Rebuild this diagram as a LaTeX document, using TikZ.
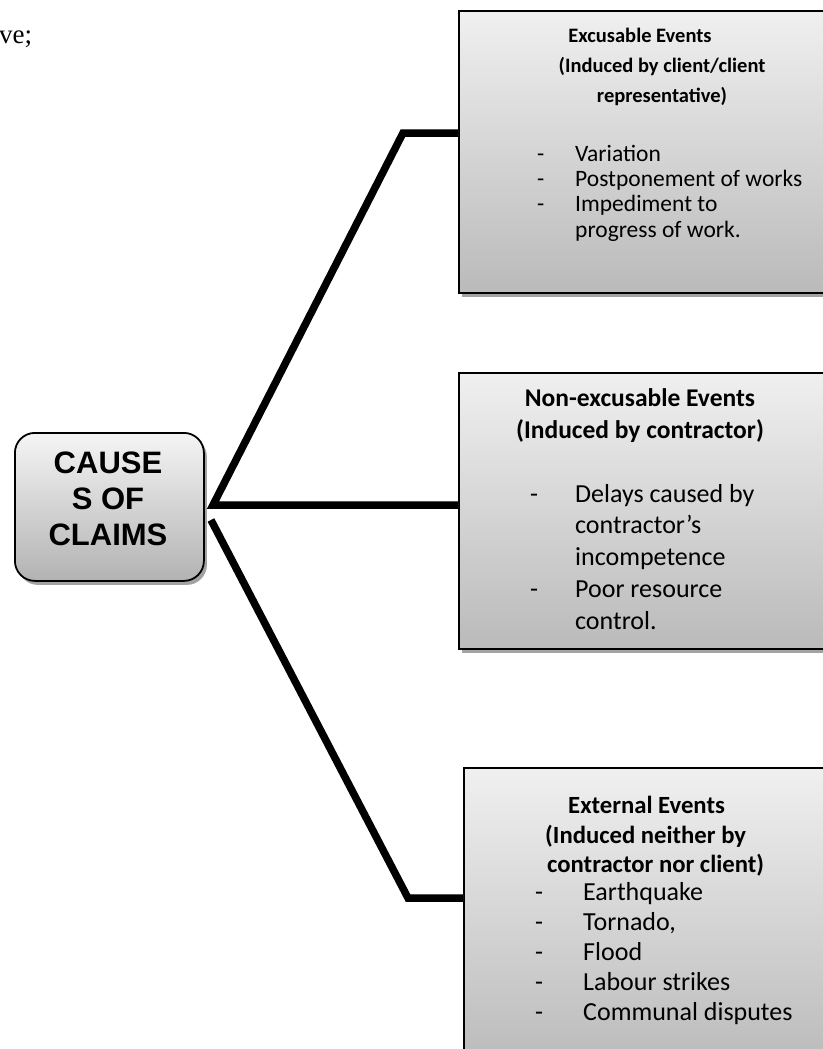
\documentclass[tikz,border=0pt]{standalone}
\usepackage{fontspec}
\setmainfont{Carlito}
\newfontfamily\arialfont{Liberation Sans}
\newfontfamily\timesfont{Liberation Serif}
\usetikzlibrary{shadows}
\begin{document}
\begin{tikzpicture}[x=1pt,y=-1pt,
  eventbox/.style={draw=black, line width=1.8pt, top color=black!6, bottom color=black!27,
    minimum width=380pt, anchor=north west, inner sep=0pt,
    drop shadow={shadow xshift=3pt, shadow yshift=-4pt, fill=black!45, opacity=0.8}},
  causebox/.style={draw=black, line width=1.8pt, rounded corners=20pt, top color=black!4, bottom color=black!30,
    minimum width=189pt, minimum height=148pt, anchor=north west, inner sep=0pt,
    drop shadow={shadow xshift=3pt, shadow yshift=-4pt, fill=black!45, opacity=0.8}},
  txt/.style={inner sep=0pt, anchor=base west},
  ctxt/.style={inner sep=0pt, anchor=base},
  link/.style={line width=7.5pt, line join=miter, draw=black},
  linkshadow/.style={line width=6.5pt, line join=miter, draw=black!35},
]
\useasboundingbox (0,0) rectangle (822,1049);

% stray text at the top of the page
\node[txt, font=\timesfont\fontsize{27}{30}\selectfont] (frag) at (-1,44) {ve;};

% boxes
\node[eventbox, minimum height=282pt] (b1) at (458,10) {};
\node[eventbox, minimum height=276pt] (b2) at (458,372) {};
\node[eventbox, minimum height=300pt] (b3) at (463,767) {};
\node[causebox] (c) at (14,432) {};

% joints of the connectors
\coordinate (j1) at (213,505);
\coordinate (j2) at (211,520);
\coordinate (k1) at (403,133);
\coordinate (k3) at (408,898);

% connector shadows
\begin{scope}[xshift=2pt, yshift=-5pt]
  \draw[linkshadow] (k1 -| b1.west) -- (k1) -- (j1) -- (j1 -| b2.west);
  \draw[linkshadow] (j2) -- (k3) -- (k3 -| b3.west);
\end{scope}
% connectors
\draw[link] (k1 -| b1.west) -- (k1) -- (j1) -- (j1 -| b2.west);
\draw[link] (j2) -- (k3) -- (k3 -| b3.west);

% central box
\begin{scope}[font=\arialfont\bfseries\fontsize{31}{36}\selectfont]
  \node[ctxt] (c1) at (108,473) {CAUSE};
  \node[ctxt] (c2) at (108,509) {S OF};
  \node[ctxt] (c3) at (108,545) {CLAIMS};
\end{scope}

% excusable events
\begin{scope}[font=\bfseries\fontsize{20.5}{24}\selectfont]
  \node[ctxt] (h11) at (640,43) {Excusable Events};
  \node[ctxt] (h12) at (662,73) {(Induced by client/client};
  \node[ctxt] (h13) at (662,102) {representative)};
\end{scope}
\begin{scope}[font=\fontsize{23.5}{26}\selectfont]
  \node[txt] (d11) at (537,161) {-};
  \node[txt] (l11) at (575,161) {Variation};
  \node[txt] (d12) at (537,186) {-};
  \node[txt] (l12) at (575,186) {Postponement of works};
  \node[txt] (d13) at (537,211) {-};
  \node[txt] (l13) at (575,211) {Impediment to};
  \node[txt] (l14) at (575,237) {progress of work.};
\end{scope}

% non-excusable events
\begin{scope}[font=\bfseries\fontsize{25.5}{30}\selectfont]
  \node[ctxt] (h21) at (640,406) {Non-excusable Events};
  \node[ctxt] (h22) at (640,438) {(Induced by contractor)};
\end{scope}
\begin{scope}[font=\fontsize{26}{30}\selectfont]
  \node[txt] (d21) at (530,502) {-};
  \node[txt] (l21) at (575,502) {Delays caused by};
  \node[txt] (l22) at (575,533) {contractor’s};
  \node[txt] (l23) at (575,565) {incompetence};
  \node[txt] (d24) at (530,597) {-};
  \node[txt] (l24) at (575,597) {Poor resource};
  \node[txt] (l25) at (575,629) {control.};
\end{scope}

% external events
\begin{scope}[font=\bfseries\fontsize{24.7}{29}\selectfont]
  \node[txt] (h31) at (568,813) {External Events};
  \node[txt] (h32) at (545,843) {(Induced neither by};
  \node[txt] (h33) at (547,872) {contractor nor client)};
\end{scope}
\begin{scope}[font=\fontsize{26}{30}\selectfont]
  \node[txt] (d31) at (535,900) {-};
  \node[txt] (l31) at (583,900) {Earthquake};
  \node[txt] (d32) at (535,930) {-};
  \node[txt] (l32) at (583,930) {Tornado,};
  \node[txt] (d33) at (535,960) {-};
  \node[txt] (l33) at (583,960) {Flood};
  \node[txt] (d34) at (535,990) {-};
  \node[txt] (l34) at (583,990) {Labour strikes};
  \node[txt] (d35) at (535,1020) {-};
  \node[txt] (l35) at (583,1020) {Communal disputes};
\end{scope}
\end{tikzpicture}
\end{document}
